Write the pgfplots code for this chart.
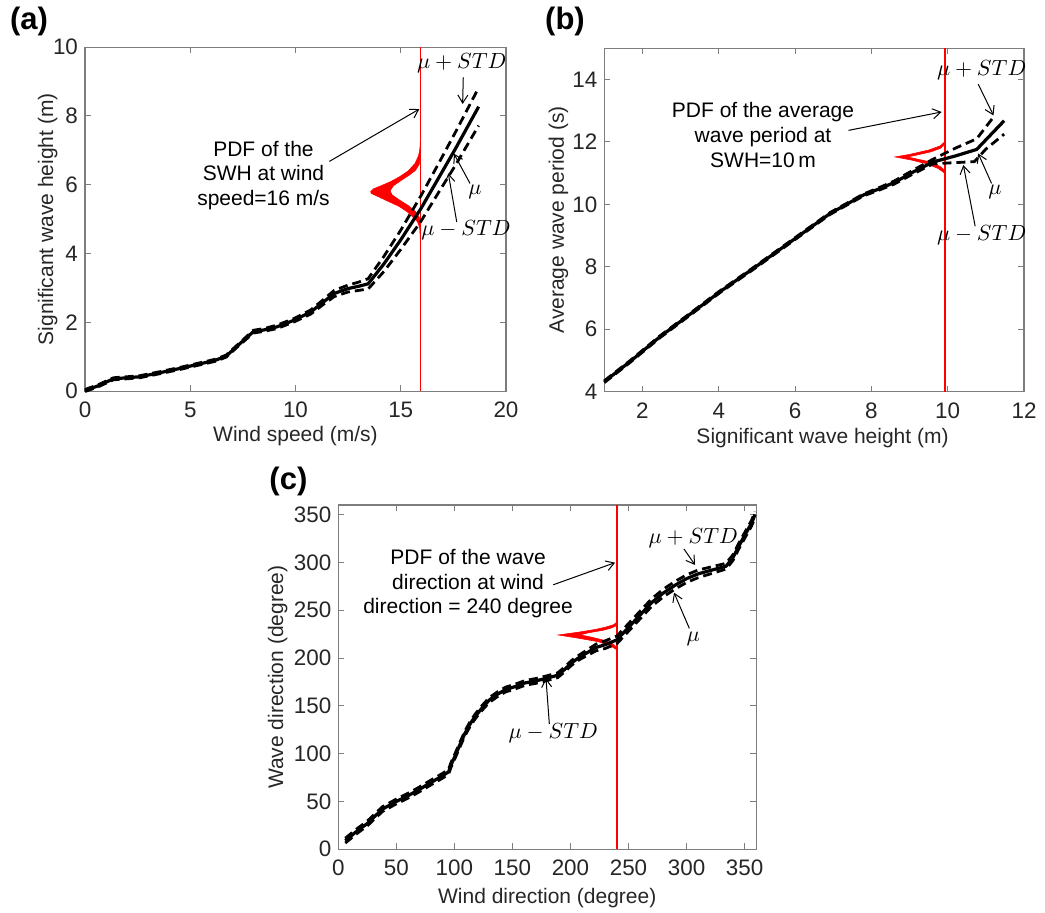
\documentclass[border=0pt]{standalone}
\usepackage{pgfplots}
\pgfplotsset{compat=1.18}
\usepackage{fontspec}
\setmainfont{Liberation Sans}
\usetikzlibrary{arrows.meta}
\definecolor{axgray}{RGB}{125,125,125}
\definecolor{txtgray}{RGB}{38,38,38}
\pgfplotsset{
  mystyle/.style={
    scale only axis, anchor=south west,
    axis line style={axgray, line width=0.6pt},
    tick style={axgray, line width=0.5pt},
    major tick length=3pt,
    tick align=inside,
    ticklabel style={font=\fontsize{11.2}{13}\selectfont, text=txtgray},
    xticklabel style={yshift=-2pt},
    label style={font=\fontsize{10.5}{12}\selectfont, text=txtgray},
    /pgf/number format/assume math mode=true,
    clip=false,
  },
}
\tikzset{
  mean/.style={black, line width=1.6pt},
  std/.style={black, line width=1.4pt, dash pattern=on 4.5pt off 2.5pt},
  pdf/.style={red, fill=red, line width=0.3pt},
  arr/.style={-{Straight Barb[length=4pt,width=5pt]}, line width=0.5pt, black},
  ann/.style={font=\fontsize{10.5}{12.3}\selectfont, align=center, black},
  mu/.style={font=\fontsize{10.5}{12}\selectfont, black},
  plab/.style={font=\bfseries\fontsize{15.5}{17}\selectfont},
}
\begin{document}
\begin{tikzpicture}
\useasboundingbox (0,0) rectangle (522.5pt,456.5pt);
% ---------------- (a)
\begin{axis}[mystyle, at={(42.5pt,260.9pt)}, width=210.5pt, height=172pt,
  xmin=0, xmax=20, ymin=0, ymax=10,
  xtick={0,5,10,15,20}, ytick={0,2,4,6,8,10},
  xlabel={Wind speed (m/s)}, ylabel={Significant wave height (m)},
  x label style={at={(axis description cs:0.5,-0.130)}, anchor=center},
  y label style={at={(axis description cs:-0.0886,0.5)}, anchor=center}]
\addplot[red, line width=0.5pt] coordinates {(15.93,0) (15.93,10)};
\addplot[pdf] coordinates {
(15.93,4.45) (15.9,4.75) (15.8,4.92) (15.6,5.05) (15.3,5.22) (14.9,5.38) (14.4,5.52) (13.95,5.65) (13.6,5.75) (13.57,5.8) (13.7,5.88) (14.1,5.98) (14.55,6.1) (14.96,6.24) (15.35,6.4) (15.68,6.62) (15.85,6.85) (15.91,7.05) (15.93,7.25)
(15.93,6.85) (15.88,6.6) (15.7,6.42) (15.4,6.28) (15.0,6.12) (14.65,5.97) (14.49,5.82) (14.6,5.7) (14.95,5.55) (15.35,5.4) (15.7,5.22) (15.88,5.05) (15.93,4.9)};
\addplot[std] coordinates {
(0,0.05) (0.6,0.18) (1.35,0.39) (2.0,0.42) (2.6,0.45) (3.5,0.56) (4.5,0.69) (5.5,0.83) (6.2,0.93) (6.71,1.05) (7.3,1.38) (8.0,1.77) (8.5,1.82) (9.12,1.92) (9.92,2.11) (10.72,2.36) (11.3,2.65) (11.84,2.93) (12.48,3.08) (13.0,3.17) (13.45,3.27) (14.2,3.92) (15.0,4.68) (15.95,5.67) (16.8,6.62) (17.6,7.53) (18.7,8.82)};
\addplot[std] coordinates {
(0,-0.01) (0.6,0.12) (1.35,0.33) (2.0,0.36) (2.6,0.39) (3.5,0.50) (4.5,0.63) (5.5,0.77) (6.2,0.87) (6.71,0.99) (7.3,1.32) (8.0,1.69) (8.5,1.74) (9.12,1.82) (9.92,2.01) (10.72,2.24) (11.3,2.51) (11.84,2.75) (12.48,2.88) (13.0,2.93) (13.45,2.97) (14.2,3.48) (15.0,4.12) (15.95,4.93) (16.8,5.78) (17.6,6.57) (18.7,7.72)};
\addplot[mean] coordinates {
(0,0.02) (0.6,0.15) (1.35,0.36) (2.0,0.39) (2.6,0.42) (3.5,0.53) (4.5,0.66) (5.5,0.80) (6.2,0.90) (6.71,1.02) (7.3,1.35) (8.0,1.73) (8.5,1.78) (9.12,1.87) (9.92,2.06) (10.72,2.30) (11.3,2.58) (11.84,2.84) (12.48,2.98) (13.0,3.05) (13.45,3.12) (14.2,3.7) (15.0,4.4) (15.95,5.3) (16.8,6.2) (17.6,7.05) (18.7,8.27)};
\node[ann] at (axis cs:8.48,6.27) {PDF of the\\SWH at wind\\speed=16 m/s};
\draw[arr] (axis cs:11.61,6.68) -- (axis cs:15.88,8.2);
\node[mu] at (axis cs:17.9,9.53) {$\mu+STD$};
\draw[arr] (axis cs:17.97,9.12) -- (axis cs:17.94,8.35);
\node[mu] at (axis cs:18.53,5.8) {$\mu$};
\draw[arr] (axis cs:18.29,6.04) -- (axis cs:17.53,6.9);
\node[mu] at (axis cs:18.1,4.68) {$\mu-STD$};
\draw[arr] (axis cs:17.66,4.92) -- (axis cs:17.26,6.33);
\end{axis}
% ---------------- (b)
\begin{axis}[mystyle, at={(302.15pt,260.65pt)}, width=209.85pt, height=171.7pt,
  xmin=1, xmax=12, ymin=4, ymax=15,
  xtick={2,4,6,8,10,12}, ytick={4,6,8,10,12,14},
  xlabel={Significant wave height (m)}, ylabel={Average wave period (s)},
  x label style={at={(axis description cs:0.52,-0.136)}, anchor=center},
  y label style={at={(axis description cs:-0.109,0.5)}, anchor=center}]
\addplot[red, line width=1pt] coordinates {(9.94,4) (9.94,15)};
\addplot[pdf] coordinates {
(9.94,10.9) (9.9,11.02) (9.75,11.15) (9.45,11.3) (9.05,11.42) (8.62,11.52) (9.0,11.6) (9.5,11.74) (9.8,11.87) (9.92,12.0) (9.94,12.1)
(9.94,11.95) (9.82,11.8) (9.55,11.68) (9.15,11.57) (8.95,11.52) (9.2,11.45) (9.55,11.36) (9.82,11.2) (9.94,11.05)};
\addplot[std] coordinates {
(1.0,4.35) (1.67,4.99) (2.46,5.79) (3.16,6.43) (4.03,7.23) (4.91,7.98) (5.95,8.89) (6.92,9.74) (7.79,10.33) (8.23,10.55) (8.6,10.75) (9.10,11.1) (9.62,11.45) (10.2,11.8) (10.76,12.10) (11.24,12.86)};
\addplot[std] coordinates {
(1.0,4.29) (1.67,4.93) (2.46,5.73) (3.16,6.37) (4.03,7.17) (4.91,7.92) (5.95,8.83) (6.92,9.68) (7.79,10.27) (8.23,10.47) (8.6,10.65) (9.10,10.98) (9.62,11.3) (10.7,11.37) (11.0,11.77) (11.48,12.25)};
\addplot[mean] coordinates {
(1.0,4.32) (1.67,4.96) (2.46,5.76) (3.16,6.40) (4.03,7.20) (4.91,7.95) (5.95,8.86) (6.92,9.71) (7.79,10.30) (8.23,10.51) (8.6,10.7) (9.10,11.04) (9.62,11.36) (10.2,11.55) (10.76,11.76) (11.48,12.68)};
\node[ann] at (axis cs:5.16,12.22) {PDF of the average\\wave period at\\SWH=10\,m};
\draw[arr] (axis cs:7.40,12.37) -- (axis cs:9.84,12.96);
\node[mu] at (axis cs:10.89,14.3) {$\mu+STD$};
\draw[arr] (axis cs:10.80,13.85) -- (axis cs:11.20,12.85);
\node[mu] at (axis cs:11.24,10.40) {$\mu$};
\draw[arr] (axis cs:11.15,10.67) -- (axis cs:10.80,11.63);
\node[mu] at (axis cs:10.89,9.02) {$\mu-STD$};
\draw[arr] (axis cs:10.72,9.3) -- (axis cs:10.41,11.26);
\end{axis}
% ---------------- (c)
\begin{axis}[mystyle, at={(169.15pt,31.85pt)}, width=208.95pt, height=172.15pt,
  xmin=0, xmax=360, ymin=0, ymax=360,
  xtick={0,50,100,150,200,250,300,350}, ytick={0,50,100,150,200,250,300,350},
  xlabel={Wind direction (degree)}, ylabel={Wave direction (degree)},
  x label style={at={(axis description cs:0.5,-0.142)}, anchor=center},
  y label style={at={(axis description cs:-0.145,0.5)}, anchor=center}]
\addplot[red, line width=1pt] coordinates {(240.3,0) (240.3,360)};
\addplot[pdf] coordinates {
(240.3,205) (239.5,209) (234,213) (224,217) (208,220.5) (189.5,224.1) (207,227) (222,230) (231,232.5) (237.5,235) (240.3,238)
(240.3,236) (239.5,234) (235.5,231.5) (228,229) (216,226.5) (208.2,224.2) (218,221.8) (229,218.5) (237,214.5) (240.3,210)};
\addplot[std] coordinates {
(6,11.5) (15,20.5) (25,29.5) (38,44.5) (50,52.5) (60,58.5) (69,64.5) (80,72.5) (90,79.5) (95,83.5) (97,90.5) (100,98.5) (105,112.5) (109,123.5) (114,134.5) (118,141.5) (124,150.5) (130,158.5) (137,164.5) (144,169.5) (152,172.5) (161,176.5) (170,178.5) (180,181.5) (189,184.5) (195,190.5) (201,197.5) (208,203.5) (215,209) (222,214.5) (230,218) (240,223) (250,236) (260,249) (270,262) (280,272) (290,280) (300,287) (310,292) (322,295.5) (334,299) (340,308) (345,320) (350,331) (356,344) (359,353)};
\addplot[std] coordinates {
(6,6.5) (15,15.5) (25,24.5) (38,39.5) (50,47.5) (60,53.5) (69,59.5) (80,67.5) (90,74.5) (95,78.5) (97,85.5) (100,93.5) (105,107.5) (109,118.5) (114,129.5) (118,136.5) (124,145.5) (130,153.5) (137,159.5) (144,164.5) (152,167.5) (161,171.5) (170,173.5) (180,176.5) (189,179.5) (195,185.5) (201,192.5) (208,198.5) (215,203) (222,207.5) (230,210) (240,215) (250,228) (260,241) (270,254) (280,264) (290,272) (300,279) (310,284) (322,288.5) (334,293) (340,302) (345,314) (350,325) (356,338) (359,347)};
\addplot[mean] coordinates {
(6,9) (15,18) (25,27) (38,42) (50,50) (60,56) (69,62) (80,70) (90,77) (95,81) (97,88) (100,96) (105,110) (109,121) (114,132) (118,139) (124,148) (130,156) (137,162) (144,167) (152,170) (161,174) (170,176) (180,179) (189,182) (195,188) (201,195) (208,201) (215,206) (222,211) (230,214) (240,219) (250,232) (260,245) (270,258) (280,268) (290,276) (300,283) (310,288) (322,292) (334,296) (340,305) (345,317) (350,328) (356,341) (359,350)};
\node[ann] at (axis cs:111.8,277.7) {PDF of the wave\\direction at wind\\direction = 240 degree};
\draw[arr] (axis cs:185.2,276.6) -- (axis cs:238.4,299.7);
\node[mu] at (axis cs:305.8,325.2) {$\mu+STD$};
\draw[arr] (axis cs:297.8,314) -- (axis cs:307.3,297.3);
\node[mu] at (axis cs:305.8,219.6) {$\mu$};
\draw[arr] (axis cs:302.4,231) -- (axis cs:289.2,268.3);
\node[mu] at (axis cs:185.2,121.3) {$\mu-STD$};
\draw[arr] (axis cs:181.8,131) -- (axis cs:178.9,178.8);
\end{axis}
\node[plab] at (14.5pt,445.6pt) {(a)};
\node[plab] at (282.5pt,445.6pt) {(b)};
\node[plab] at (144.2pt,215.7pt) {(c)};
\end{tikzpicture}
\end{document}
